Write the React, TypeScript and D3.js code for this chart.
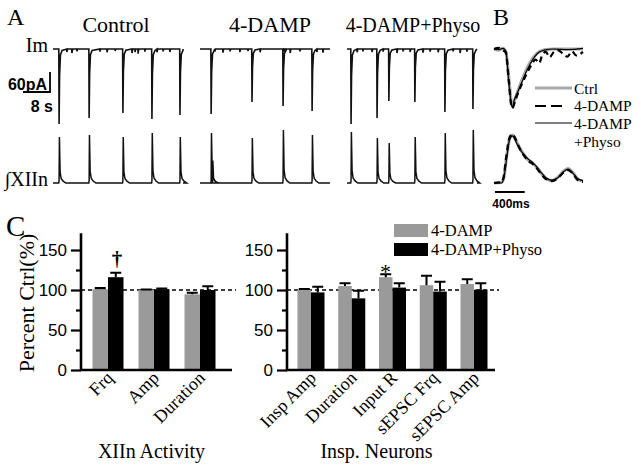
import React, { useEffect, useRef } from "react";
import * as d3 from "d3";

// ---------- Panel A: raw traces (time s, Im in pA, integrated XIIn in a.u.)
const conditions = ["Control", "4-DAMP", "4-DAMP+Physo"];
const traceDur = 38.5;
// inspiratory currents [time, pA]
const controlSpikes = [[1.8, 225], [10.7, 207], [20.7, 192], [29.3, 210], [37.6, 198]];
const dampSpikes = [[3.3, 195], [15.4, 159], [24.6, 171], [33.2, 186]];
const physoSpikes = [[1.2, 225], [8.9, 207], [12.4, 156], [20.1, 159], [29.0, 189], [37.3, 180]];
// small synaptic events on the Im baseline [time, pA]
const controlMinis = [[4.1, 9], [5.6, 12], [7.1, 7], [13.9, 8], [16.0, 10], [18.4, 6], [23.4, 12], [24.3, 9], [25.2, 14], [27.2, 8], [30.8, 10], [32.6, 7], [34.6, 9]];
const dampMinis = [[4.4, 8], [6.8, 11], [8.9, 7], [11.8, 9], [14.2, 6], [17.8, 10], [24.9, 8], [26.7, 12], [29.6, 7], [34.6, 9], [36.4, 11]];
const physoMinis = [[3.0, 10], [4.7, 7], [7.4, 9], [10.7, 8], [14.8, 12], [16.6, 7], [18.7, 9], [22.5, 11], [24.6, 8], [27.0, 10], [31.4, 7], [33.5, 12], [35.5, 8]];
// XIIn bursts [time, a.u.]
const controlBursts = [[1.8, 0.92], [10.7, 0.96], [20.7, 0.92], [29.3, 1.0], [37.6, 0.92]];
const dampBursts = [[3.3, 1.0], [3.7, 0.45], [15.4, 0.9], [24.6, 1.06], [33.2, 0.96]];
const physoBursts = [[1.2, 1.02], [8.9, 0.9], [12.4, 0.8], [20.1, 0.92], [29.0, 1.0], [37.3, 1.06]];

// ---------- Panel B: averaged waveforms (time ms, normalised)
const bCtrlTop = [[0, 0], [60, -0.02], [120, 0.01], [160, -0.05], [200, -0.5], [235, -0.92], [250, -0.96], [280, -0.86], [320, -0.72], [380, -0.52], [440, -0.34], [500, -0.2], [560, -0.1], [620, -0.04], [700, -0.01], [800, 0], [1200, 0]];
const bDampTop = [[0, 0], [60, 0.02], [120, -0.02], [160, -0.06], [200, -0.55], [235, -0.97], [250, -1.0], [280, -0.9], [320, -0.76], [380, -0.58], [440, -0.42], [500, -0.28], [560, -0.18], [610, -0.24], [650, -0.1], [700, -0.05], [750, -0.14], [800, -0.06], [860, -0.02], [930, -0.08], [990, -0.13], [1050, -0.04], [1110, -0.11], [1200, -0.05]];
const bPhysoTop = [[0, 0], [60, -0.01], [120, 0.01], [160, -0.04], [200, -0.58], [235, -0.94], [250, -1.0], [270, -0.88], [310, -0.76], [370, -0.58], [430, -0.4], [490, -0.25], [550, -0.13], [610, -0.05], [680, -0.02], [800, 0], [1000, -0.01], [1200, 0.01]];
const bCtrlBot = [[0, 0], [100, 0.01], [130, 0.1], [170, 0.55], [210, 0.92], [250, 1.0], [290, 0.9], [340, 0.75], [400, 0.6], [460, 0.48], [520, 0.42], [580, 0.32], [640, 0.2], [700, 0.1], [780, 0.05], [860, 0.12], [940, 0.25], [1000, 0.3], [1060, 0.22], [1130, 0.08], [1200, 0.04]];
const bDampBot = [[0, 0], [100, 0.02], [130, 0.12], [170, 0.6], [210, 0.95], [250, 1.02], [290, 0.92], [340, 0.74], [400, 0.58], [460, 0.46], [520, 0.4], [580, 0.3], [640, 0.18], [700, 0.08], [780, 0.04], [860, 0.1], [940, 0.22], [1000, 0.27], [1060, 0.2], [1130, 0.06], [1200, 0.02]];
const bPhysoBot = [[0, 0], [100, 0.0], [130, 0.08], [170, 0.5], [210, 0.9], [250, 0.98], [290, 0.88], [340, 0.72], [400, 0.6], [460, 0.5], [520, 0.43], [580, 0.33], [640, 0.21], [700, 0.11], [780, 0.06], [860, 0.11], [940, 0.24], [1000, 0.29], [1060, 0.21], [1130, 0.09], [1200, 0.05]];

// ---------- Panel C: percent of control
const xiiCats = ["Frq", "Amp", "Duration"];
const xiiDamp = [101, 100, 94.6];
const xiiDampErr = [1.5, 0.5, 2];
const xiiPhyso = [116, 101, 100];
const xiiPhysoErr = [5.6, 0.8, 4.6];

const inspCats = ["Insp Amp", "Duration", "Input R", "sEPSC Frq", "sEPSC Amp"];
const inspDamp = [100, 105, 116, 106, 107.5];
const inspDampErr = [1.2, 3.3, 3.7, 11.7, 5.8];
const inspPhyso = [97, 89.6, 103, 98, 100.4];
const inspPhysoErr = [7, 9.4, 5.3, 12.4, 7.9];

const yTicks = [0, 50, 100, 150];
const yMinorTicks = [25, 75, 125];

const serif = "'Liberation Serif', 'Times New Roman', serif";
const sans = "'Liberation Sans', Arial, sans-serif";
const gray = "#9a9a9a";

function imPoints(spikes, minis) {
  const evs = [
    ...spikes.map((s) => ({ t: s[0], a: s[1], big: true })),
    ...minis.map((s) => ({ t: s[0], a: s[1], big: false })),
  ].sort((a, b) => a.t - b.t);
  const pts = [[0, 0]];
  evs.forEach((e) => {
    if (e.big) {
      pts.push([e.t - 0.08, 0], [e.t, -e.a], [e.t + 0.15, -e.a * 0.35], [e.t + 0.4, -e.a * 0.08], [e.t + 0.9, -e.a * 0.02]);
    } else {
      pts.push([e.t - 0.05, 0], [e.t, -e.a], [e.t + 0.2, 0]);
    }
  });
  pts.push([traceDur, 0]);
  return pts;
}

function xiiPoints(bursts) {
  const pts = [[0, 0]];
  bursts.forEach(([t, a]) => {
    pts.push([t - 0.1, 0], [t, 0.05 * a], [t + 0.1, a], [t + 0.3, 0.25 * a], [t + 0.6, 0.1 * a], [t + 1.2, 0.04 * a], [t + 2, 0]);
  });
  pts.push([traceDur, 0]);
  return pts;
}

const App = () => {
  const svgRef = useRef(null);

  useEffect(() => {
    const svg = d3.select(svgRef.current);
    svg.selectAll("*").remove();

    const text = (x, y, str, size, opts = {}) =>
      svg
        .append("text")
        .attr("x", x)
        .attr("y", y)
        .attr("font-family", opts.family || serif)
        .attr("font-size", size)
        .attr("font-weight", opts.weight || "normal")
        .attr("text-anchor", opts.anchor || "start")
        .attr("fill", "#000")
        .text(str);

    // panel letters
    text(7, 25, "A", 24);
    text(493, 25, "B", 24);
    text(6, 236, "C", 29);

    // ---------------- Panel A
    const traceX0 = [53, 200, 347];
    const traceW = 130;
    const titleX = [116, 270, 413];
    const titleSize = [22, 22, 20];
    const imY = d3.scaleLinear().domain([0, -60]).range([49, 69]);
    const xiiY = d3.scaleLinear().domain([0, 1]).range([183, 133]);
    const spikes = [controlSpikes, dampSpikes, physoSpikes];
    const minis = [controlMinis, dampMinis, physoMinis];
    const bursts = [controlBursts, dampBursts, physoBursts];

    let firstX = null;
    conditions.forEach((c, i) => {
      const x = d3.scaleLinear().domain([0, traceDur]).range([traceX0[i], traceX0[i] + traceW]);
      if (i === 0) firstX = x;
      text(titleX[i], 32, c, titleSize[i], { anchor: "middle" });
      const imLine = d3.line().x((d) => x(d[0])).y((d) => imY(d[1]));
      svg.append("path").attr("d", imLine(imPoints(spikes[i], minis[i])))
        .attr("fill", "none").attr("stroke", "#111").attr("stroke-width", 1.6);
      const xLine = d3.line().x((d) => x(d[0])).y((d) => xiiY(d[1]));
      svg.append("path").attr("d", xLine(xiiPoints(bursts[i])))
        .attr("fill", "none").attr("stroke", "#111").attr("stroke-width", 1.5);
    });

    text(48, 52, "Im", 20, { anchor: "end" });
    text(48, 186, "\u222BXIIn", 20, { anchor: "end" });

    // scale bars
    const sbX = 50;
    const sbBottom = 92;
    const vLen = imY(-60) - imY(0);
    const hLen = firstX(8) - firstX(0);
    svg.append("path")
      .attr("d", `M${sbX},${sbBottom - vLen}V${sbBottom}H${sbX - hLen}`)
      .attr("fill", "none").attr("stroke", "#000").attr("stroke-width", 1.8);
    text(47, 90, "60pA", 16, { family: sans, weight: "bold", anchor: "end" });
    text(53, 112, "8 s", 16, { family: sans, weight: "bold", anchor: "end" });

    // ---------------- Panel B
    const xB = d3.scaleLinear().domain([0, 1200]).range([494, 583]);
    const topY = d3.scaleLinear().domain([-1, 0]).range([108, 49]);
    const botY = d3.scaleLinear().domain([0, 1]).range([183, 135]);
    const lineTop = d3.line().x((d) => xB(d[0])).y((d) => topY(d[1])).curve(d3.curveMonotoneX);
    const lineBot = d3.line().x((d) => xB(d[0])).y((d) => botY(d[1])).curve(d3.curveMonotoneX);
    const styles = [
      { stroke: "#a8a8a8", w: 3.2, dash: null },
      { stroke: "#000", w: 2.2, dash: "6,4" },
      { stroke: "#000", w: 1.2, dash: null },
    ];
    [[bCtrlTop, bCtrlBot], [bDampTop, bDampBot], [bPhysoTop, bPhysoBot]].forEach(([t, b], i) => {
      const s = styles[i];
      [lineTop(t), lineBot(b)].forEach((d) => {
        svg.append("path").attr("d", d).attr("fill", "none")
          .attr("stroke", s.stroke).attr("stroke-width", s.w)
          .attr("stroke-dasharray", s.dash);
      });
    });
    // legend B
    const legB = [
      { y: 88, x2: 572, ...styles[0], dash: null, label: ["Ctrl"], ty: 94 },
      { y: 106, x2: 563, ...styles[1], dash: "11,5", label: ["4-DAMP"], ty: 111 },
      { y: 123, x2: 572, ...styles[2], label: ["4-DAMP", "+Physo"], ty: 129 },
    ];
    legB.forEach((l) => {
      svg.append("line").attr("x1", 535).attr("x2", l.x2).attr("y1", l.y).attr("y2", l.y)
        .attr("stroke", l.stroke).attr("stroke-width", l.w).attr("stroke-dasharray", l.dash);
      l.label.forEach((s, j) => text(574, l.ty + j * 18, s, 15.5));
    });
    svg.append("line").attr("x1", xB(0) + 1).attr("x2", xB(400) + 1).attr("y1", 192).attr("y2", 192)
      .attr("stroke", "#000").attr("stroke-width", 2);
    text(511, 208, "400ms", 12, { family: sans, weight: "bold", anchor: "middle" });

    // ---------------- Panel C
    const yC = d3.scaleLinear().domain([0, 171]).range([370, 233.2]);

    const drawGroup = (cats, damp, dampErr, physo, physoErr, axisX, axisEnd, cRange, barW, title, titleCx) => {
      const cx = d3.scalePoint().domain(cats).range(cRange);
      const g = svg.append("g");

      // dashed 100% reference
      g.append("line").attr("x1", axisX).attr("x2", axisEnd + 4)
        .attr("y1", yC(100)).attr("y2", yC(100))
        .attr("stroke", "#000").attr("stroke-width", 1.5).attr("stroke-dasharray", "4,3");

      const series = [
        { vals: damp, errs: dampErr, fill: gray, off: -barW },
        { vals: physo, errs: physoErr, fill: "#000", off: 0 },
      ];
      series.forEach((s) => {
        cats.forEach((c, i) => {
          const x0 = cx(c) + s.off;
          g.append("rect").attr("x", x0).attr("y", yC(s.vals[i]))
            .attr("width", barW).attr("height", yC(0) - yC(s.vals[i])).attr("fill", s.fill);
          const xm = x0 + barW / 2;
          const yt = yC(s.vals[i] + s.errs[i]);
          g.append("path")
            .attr("d", `M${xm},${yC(s.vals[i])}V${yt}M${xm - 5.5},${yt}H${xm + 5.5}`)
            .attr("stroke", "#000").attr("stroke-width", 2).attr("fill", "none");
        });
      });

      // axes
      const ax = g.append("g").attr("transform", `translate(${axisX},0)`)
        .call(d3.axisLeft(yC).tickValues(yTicks).tickSize(10).tickPadding(4).tickSizeOuter(0));
      ax.select(".domain").remove();
      ax.selectAll("line").attr("stroke", "#000").attr("stroke-width", 2.2);
      ax.selectAll("text").attr("font-family", sans).attr("font-size", 17).attr("fill", "#000");
      const axm = g.append("g").attr("transform", `translate(${axisX},0)`)
        .call(d3.axisLeft(yC).tickValues(yMinorTicks).tickSize(5).tickFormat(() => "").tickSizeOuter(0));
      axm.select(".domain").remove();
      axm.selectAll("line").attr("stroke", "#000").attr("stroke-width", 2.2);

      g.append("path")
        .attr("d", `M${axisX},${yC(171)}V${yC(0)}H${axisEnd}`)
        .attr("fill", "none").attr("stroke", "#000").attr("stroke-width", 2.6);

      cats.forEach((c) => {
        g.append("text")
          .attr("transform", `translate(${cx(c) + 6},379) rotate(-45)`)
          .attr("text-anchor", "end")
          .attr("font-family", serif).attr("font-size", 18).attr("fill", "#000")
          .text(c);
      });
      text(titleCx, 458, title, 20, { anchor: "middle" });
      return cx;
    };

    const cxL = drawGroup(xiiCats, xiiDamp, xiiDampErr, xiiPhyso, xiiPhysoErr, 81, 232, [108, 200], 15.5, "XIIn Activity", 151.5);
    const cxR = drawGroup(inspCats, inspDamp, inspDampErr, inspPhyso, inspPhysoErr, 287, 495, [311, 474], 13.5, "Insp. Neurons", 376.5);

    // significance marks
    text(cxL("Frq") + 9, 266, "\u2020", 21, { anchor: "middle", weight: "bold" });
    text(cxR("Input R") - 7, 279, "*", 22, { anchor: "middle" });

    // y title
    svg.append("text")
      .attr("transform", "translate(34,303) rotate(-90)")
      .attr("text-anchor", "middle")
      .attr("font-family", serif).attr("font-size", 22).attr("fill", "#000")
      .text("Percent Ctrl(%)");

    // legend C
    const legC = [
      { fill: gray, y: 224, label: "4-DAMP", ty: 236 },
      { fill: "#000", y: 243, label: "4-DAMP+Physo", ty: 255 },
    ];
    legC.forEach((l) => {
      svg.append("rect").attr("x", 394).attr("y", l.y).attr("width", 34).attr("height", 13).attr("fill", l.fill);
      text(431, l.ty, l.label, 16.5);
    });
  }, []);

  return (
    <svg
      ref={svgRef}
      width={641}
      height={468}
      style={{ position: "absolute", left: 0, top: 0, background: "#fff" }}
    ></svg>
  );
};

export default App;
